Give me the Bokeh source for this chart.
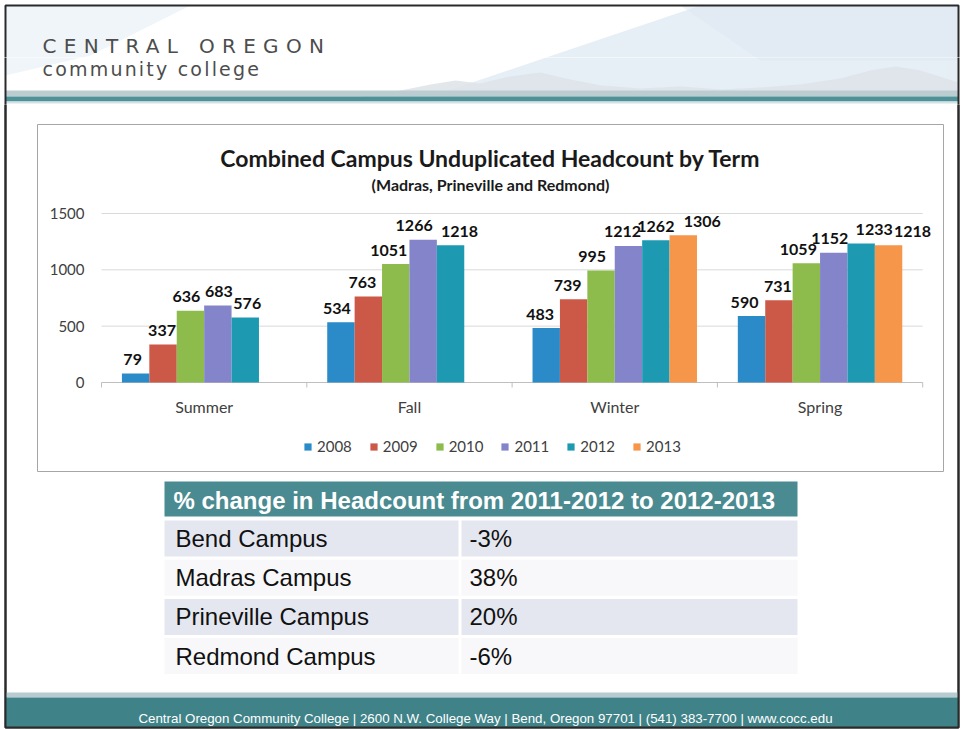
from bokeh.plotting import figure
from bokeh.layouts import column
from bokeh.models import Range1d, ColumnDataSource, Legend, LegendItem
from bokeh.core.properties import value
from bokeh.embed import file_html
from bokeh.resources import INLINE

# ---------------- data ----------------
terms = ["Summer", "Fall", "Winter", "Spring"]
years = ["2008", "2009", "2010", "2011", "2012", "2013"]
hc_2008 = [79, 534, 483, 590]
hc_2009 = [337, 763, 739, 731]
hc_2010 = [636, 1051, 995, 1059]
hc_2011 = [683, 1266, 1212, 1152]
hc_2012 = [576, 1218, 1262, 1233]
hc_2013 = [None, None, 1306, 1218]
y_ticks = [0, 500, 1000, 1500]

chart_title = "Combined Campus Unduplicated Headcount by Term"
chart_subtitle = "(Madras, Prineville and Redmond)"

table_title = "% change in Headcount from 2011-2012 to 2012-2013"
campuses = ["Bend Campus", "Madras Campus", "Prineville Campus", "Redmond Campus"]
pct_change = ["-3%", "38%", "20%", "-6%"]

org_name = "CENTRAL OREGON"
org_sub = "community college"
footer_text = ("Central Oregon Community College | 2600 N.W. College Way | "
               "Bend, Oregon 97701 | (541) 383-7700 | www.cocc.edu")

series = [hc_2008, hc_2009, hc_2010, hc_2011, hc_2012, hc_2013]

# ---------------- style ----------------
colors = ["#2A8BC8", "#CC5848", "#8DBB4C", "#8484CA", "#1D9AB2", "#F5964A"]
# small horizontal nudges (px) of the data labels, as placed in the original
label_dx = [[-3, -4, -6, -7], [-1, -6, -6, -1], [-4, -7, -9, -8],
            [1, -9, -6, -4], [2, 9, 0, 13], [0, 0, 19, 24]]
CAL = "Lato"
ARIAL = "Liberation Sans"
AXIS_TXT = "#404040"
LOGO_FONT = "DejaVu Sans"
LOGO_COL = "#4d4d4d"

W, H = 964, 729
SL, SR, ST, SB = 5, 958, 5, 727          # slide edges on the page
BAND1, BAND2 = 57, 104                    # page rows where the stacked figures meet


def band(y_top, y_bot, styles=None):
    f = figure(width=W, height=y_bot - y_top, x_range=Range1d(0, W), y_range=Range1d(y_bot, y_top),
               x_axis_type=None, y_axis_type=None, min_border=0,
               toolbar_location=None, output_backend="svg")
    f.outline_line_color = None
    f.background_fill_color = "white"
    f.border_fill_color = "white"
    if styles:
        f.styles = styles
    return f


def header_deco(f):
    f.patch([SL, 190, 90, SL], [ST, ST, 55, 75], fill_color="#f0f5f9", line_color=None)
    f.patch([430, 700, SR, SR, 560], [96, ST, ST, 96, 96], fill_color="#e6eff6", line_color=None)
    f.patch([680, SR, SR, 760], [ST, ST, 60, 60], fill_color="#dde8f1", line_color=None, fill_alpha=0.5)
    f.patch([360, 400, 430, 455, 480, 510, 540, 565, 600, 640, 680, 720, 760, 800, 840, 870,
             895, 920, 945, SR, SR],
            [96, 90, 84, 80, 83, 76, 72, 78, 85, 88, 86, 89, 87, 84, 78, 70, 66, 70, 78, 82, 96],
            fill_color="#dde3e7", line_color=None, fill_alpha=0.85)
    f.quad(left=SL, right=SR, top=90, bottom=96, fill_color="#bccdd2", line_color=None)
    f.quad(left=SL, right=SR, top=96, bottom=101, fill_color="#4e9298", line_color=None)
    f.quad(left=SL, right=SR, top=101, bottom=103, fill_color="#d3e2e5", line_color=None)
    f.quad(left=SL, right=SR, top=ST, bottom=SB, fill_color=None, line_color="#2a2a2a", line_width=2)


# ---------------- header (two stacked strips, letter-spaced logo type) ----------------
h1 = band(0, BAND1, styles={"letter-spacing": "7.3px"})
header_deco(h1)
h1.text(x=[42], y=[45], text=[org_name], text_font=value(LOGO_FONT), text_font_size="20px",
        text_color=LOGO_COL, text_baseline="middle", text_align="left")

h2 = band(BAND1, BAND2, styles={"letter-spacing": "2.2px"})
header_deco(h2)
h2.text(x=[42], y=[68], text=[org_sub], text_font=value(LOGO_FONT), text_font_size="19px",
        text_color=LOGO_COL, text_baseline="middle", text_align="left")

# ---------------- main body ----------------
p = band(BAND2, H)
header_deco(p)

# chart scales (plot area inside the page)
PLOT_L, CAT_W = 101.0, 205.3
ZERO_Y, PX_PER_UNIT = 382.0, 169.0 / 1500
p.extra_x_ranges = {"cx": Range1d(-PLOT_L / CAT_W, (W - PLOT_L) / CAT_W)}
p.extra_y_ranges = {"cy": Range1d(-(H - ZERO_Y) / PX_PER_UNIT, (ZERO_Y - BAND2) / PX_PER_UNIT)}

p.quad(left=37, right=943, top=124, bottom=471, fill_color=None, line_color="#a6a6a6", line_width=1)
p.text(x=[490], y=[157], text=[chart_title], text_font=value(CAL), text_font_style="bold",
       text_font_size="23px", text_color="#1a1a1a", text_align="center", text_baseline="middle")
p.text(x=[490], y=[184], text=[chart_subtitle], text_font=value(CAL), text_font_style="bold",
       text_font_size="16px", text_color="#1a1a1a", text_align="center", text_baseline="middle")

n_cat = len(terms)
grid_vals = y_ticks[1:]
p.segment(x0=[0] * len(grid_vals), x1=[n_cat] * len(grid_vals), y0=grid_vals, y1=grid_vals,
          line_color="#d9d9d9", line_width=1, x_range_name="cx", y_range_name="cy")
p.segment(x0=[0], x1=[n_cat], y0=[0], y1=[0], line_color="#bfbfbf", line_width=1,
          x_range_name="cx", y_range_name="cy")
p.segment(x0=list(range(n_cat + 1)), x1=list(range(n_cat + 1)), y0=[0] * (n_cat + 1),
          y1=[-5 / PX_PER_UNIT] * (n_cat + 1), line_color="#bfbfbf", line_width=1,
          x_range_name="cx", y_range_name="cy")

p.text(x=[84] * len(y_ticks), y=y_ticks, text=[str(t) for t in y_ticks], y_range_name="cy",
       text_font=value(CAL), text_font_size="15px", text_color=AXIS_TXT,
       text_align="right", text_baseline="middle")
p.text(x=[i + 0.5 for i in range(n_cat)], y=[406] * n_cat, text=terms, x_range_name="cx",
       text_font=value(CAL), text_font_size="16px", text_color=AXIS_TXT,
       text_align="center", text_baseline="middle")

BW = 0.1335
items = []
for j, (yr, vals, col) in enumerate(zip(years, series, colors)):
    idx = [i for i, v in enumerate(vals) if v is not None]
    src = ColumnDataSource(dict(
        x=[i + 0.5 + (j - (len(years) - 1) / 2) * BW for i in idx],
        top=[vals[i] for i in idx],
        lbl=[str(vals[i]) for i in idx],
        dx=[label_dx[j][i] for i in idx]))
    r = p.vbar(x="x", top="top", bottom=0, width=BW, source=src, fill_color=col,
               line_color=None, x_range_name="cx", y_range_name="cy")
    p.text(x="x", y="top", text="lbl", x_offset="dx", y_offset=-14, source=src,
           text_font=value(CAL), text_font_style="bold", text_font_size="16px",
           text_color="#111111", text_align="center", text_baseline="alphabetic",
           x_range_name="cx", y_range_name="cy")
    items.append(LegendItem(label=yr, renderers=[r]))

legend = Legend(items=items, orientation="horizontal", location=(303, 274),
                glyph_width=9, glyph_height=9, label_standoff=5, spacing=17,
                padding=0, margin=0, border_line_color=None, background_fill_alpha=0,
                label_text_font=CAL, label_text_font_size="15px", label_text_color=AXIS_TXT,
                label_height=16)
p.add_layout(legend)

# ---------------- table ----------------
TBL_L, TBL_M, TBL_R = 164, 459, 797
HDR_T, HDR_B = 481, 516
ROW_T0, ROW_H, ROW_FILL_H = 520, 39.2, 36
n_rows = len(campuses)
row_tops = [ROW_T0 + i * ROW_H for i in range(n_rows)]
row_bots = [t + ROW_FILL_H for t in row_tops]
row_mid = [t + ROW_FILL_H / 2 for t in row_tops]
fills = ["#e4e7f0" if i % 2 == 0 else "#f8f8fa" for i in range(n_rows)]

p.quad(left=TBL_L, right=TBL_R, top=HDR_T, bottom=HDR_B, fill_color="#4a8b91", line_color=None)
p.text(x=[173], y=[(HDR_T + HDR_B) / 2 + 1], text=[table_title], text_font=value(ARIAL),
       text_font_style="bold", text_font_size="24px", text_color="white",
       text_align="left", text_baseline="middle")
p.quad(left=[TBL_L] * n_rows, right=[TBL_M - 1] * n_rows, top=row_tops, bottom=row_bots,
       fill_color=fills, line_color=None)
p.quad(left=[TBL_M + 2] * n_rows, right=[TBL_R] * n_rows, top=row_tops, bottom=row_bots,
       fill_color=fills, line_color=None)
p.text(x=[175] * n_rows, y=row_mid, text=campuses, text_font=value(ARIAL),
       text_font_size="24px", text_color="#111111", text_align="left", text_baseline="middle")
p.text(x=[469] * n_rows, y=row_mid, text=pct_change, text_font=value(ARIAL),
       text_font_size="24px", text_color="#111111", text_align="left", text_baseline="middle")

# ---------------- footer ----------------
p.quad(left=SL, right=SR, top=692, bottom=697, fill_color="#b7cbd0", line_color=None)
p.quad(left=SL, right=SR, top=697, bottom=SB, fill_color="#3f8389", line_color=None)
p.text(x=[485], y=[718], text=[footer_text], text_font=value(ARIAL), text_font_size="13.3px",
       text_color="white", text_align="center", text_baseline="middle")
p.quad(left=SL, right=SR, top=ST, bottom=SB, fill_color=None, line_color="#2a2a2a", line_width=2)

page = column(h1, h2, p, spacing=0)
open("out.html", "w").write(file_html(page, INLINE))
